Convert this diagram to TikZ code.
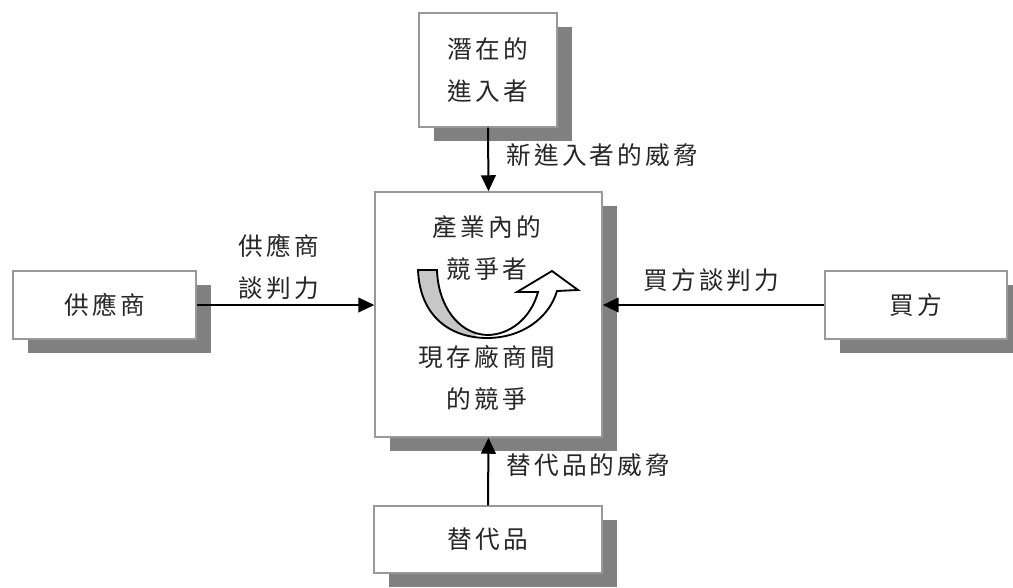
\documentclass[tikz,border=0pt]{standalone}
\usepackage{fontspec}
\newfontfamily\cjk{Noto Sans CJK TC}[LetterSpace=13]
\usetikzlibrary{arrows.meta,shadows}
\begin{document}
\begin{tikzpicture}[x=0.75pt,y=-0.75pt,
  txt/.style={font=\cjk\fontsize{18.5}{31}\selectfont, text=black!85, align=center, inner sep=0pt},
  box/.style={txt, draw=black!40, line width=1.1pt, fill=white,
    drop shadow={shadow xshift=11.4pt, shadow yshift=-10.2pt, fill=black!50, opacity=1}},
  conn/.style={line width=1.5pt, -{Triangle[length=12pt,width=11pt]}}]
\useasboundingbox (0,0) rectangle (1013,588);

% boxes
\node[box, minimum width=103.5pt, minimum height=85.5pt] (entrant) at (488,70) {潛在的\\進入者};
\node[box, minimum width=170.25pt, minimum height=183.75pt] (industry) at (488.5,314.5) {};
\node[box, minimum width=137.25pt, minimum height=51pt] (supplier) at (104.5,305) {供應商};
\node[box, minimum width=136.5pt, minimum height=51pt] (buyer) at (916,305) {買方};
\node[box, minimum width=171pt, minimum height=50.25pt] (substitute) at (488,539.5) {替代品};

% texts inside the central box
\node[txt] (rivals) at (487,248) {產業內的\\競爭者};
\node[txt] (rivalry) at (487,378) {現存廠商間\\的競爭};

% connectors
\draw[conn] (entrant.south) -- (industry.north);
\draw[conn] (substitute.north) -- (industry.south);
\draw[conn] (supplier.east) -- (supplier.east -| industry.west);
\draw[conn] (buyer.west) -- (buyer.west -| industry.east);

% connector labels
\node[txt, anchor=west] (lblEntrant) at (506,155) {新進入者的威脅};
\node[txt, anchor=west] (lblSubst) at (506,465) {替代品的威脅};
\node[txt, anchor=west] (lblBuyer) at (643,280) {買方談判力};
\node[txt] (lblSupplier) at (279,267) {供應商\\談判力};

% curved U-turn arrow
\def\uarrow{(418,270) .. controls (420,318) and (452,338) .. (487,338)
  .. controls (522,338) and (549,318) .. (557,291)
  -- (578,290) -- (552,271) -- (517,292) -- (538,292)
  .. controls (531,318) and (510,335) .. (487,335)
  .. controls (458,334) and (438,305) .. (437,270) -- cycle}
\fill[white] \uarrow;
\begin{scope}
  \clip (400,260) rectangle (476,345);
  \fill[black!22] \uarrow;
\end{scope}
\draw[line width=1.4pt, line join=miter] \uarrow;
\end{tikzpicture}
\end{document}
